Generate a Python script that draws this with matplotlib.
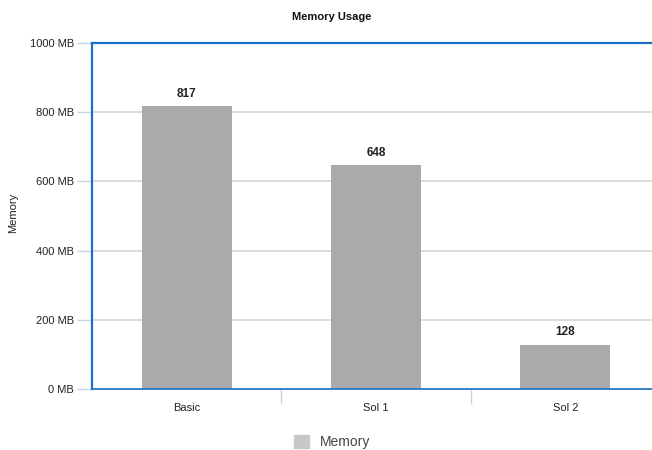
import matplotlib.pyplot as plt
import matplotlib.patches as mpatches

plt.rcParams['font.family'] = ['Liberation Sans', 'DejaVu Sans']

categories = ['Basic', 'Sol 1', 'Sol 2']
memory_mb = [817, 648, 128]
y_ticks = [0, 200, 400, 600, 800, 1000]

fig = plt.figure(figsize=(6.52, 4.5), dpi=100)
# axes spans past the right edge of the canvas
ax = fig.add_axes([92 / 652, 1 - 389 / 450, 568 / 652, 346 / 450])

blue = '#1a6fc9'
ax.bar(range(len(categories)), memory_mb, width=0.475, color='#aaaaaa', zorder=2)
for i, v in enumerate(memory_mb):
    ax.text(i, v + 18, str(v), ha='center', va='bottom', fontsize=8.5,
            fontweight='bold', color='#222222')

ax.set_xlim(-0.5, 2.5)
ax.set_ylim(0, 1000)
ax.set_yticks(y_ticks)
ax.set_yticklabels([f'{t} MB' for t in y_ticks])
ax.yaxis.grid(True, color='#d6d6d6', linewidth=1.2, zorder=0)
ax.set_axisbelow(True)

ax.set_xticks(range(len(categories)))
ax.set_xticklabels(categories)
ax.tick_params(axis='x', length=0, pad=10, labelsize=8, labelcolor='#222222')
ax.set_xticks([0.5, 1.5, 2.5], minor=True)
ax.tick_params(axis='x', which='minor', length=11, color='#c5d5e8', width=1)
ax.tick_params(axis='y', length=11, color='#c5d5e8', width=1, pad=2,
               labelsize=8, labelcolor='#222222')

for side in ['left', 'top', 'right']:
    ax.spines[side].set_color(blue)
    ax.spines[side].set_linewidth(1.6)
ax.spines['bottom'].set_color(blue)
ax.spines['bottom'].set_linewidth(1.2)

ax.set_ylabel('Memory', fontsize=8, color='#222222')
ax.yaxis.set_label_coords(-74 / 568, 0.51)
fig.text(332 / 652, 1 - 17 / 450, 'Memory Usage', ha='center', va='center',
         fontsize=8, fontweight='bold', color='#111111')

handle = mpatches.Patch(color='#c8c8c8', label='Memory')
fig.legend(handles=[handle], loc='center', bbox_to_anchor=(332 / 652, 1 - 442 / 450),
           frameon=False, fontsize=10, handlelength=1.1, handleheight=1.1,
           labelcolor='#444444')

fig.savefig('out.png', dpi=100)
